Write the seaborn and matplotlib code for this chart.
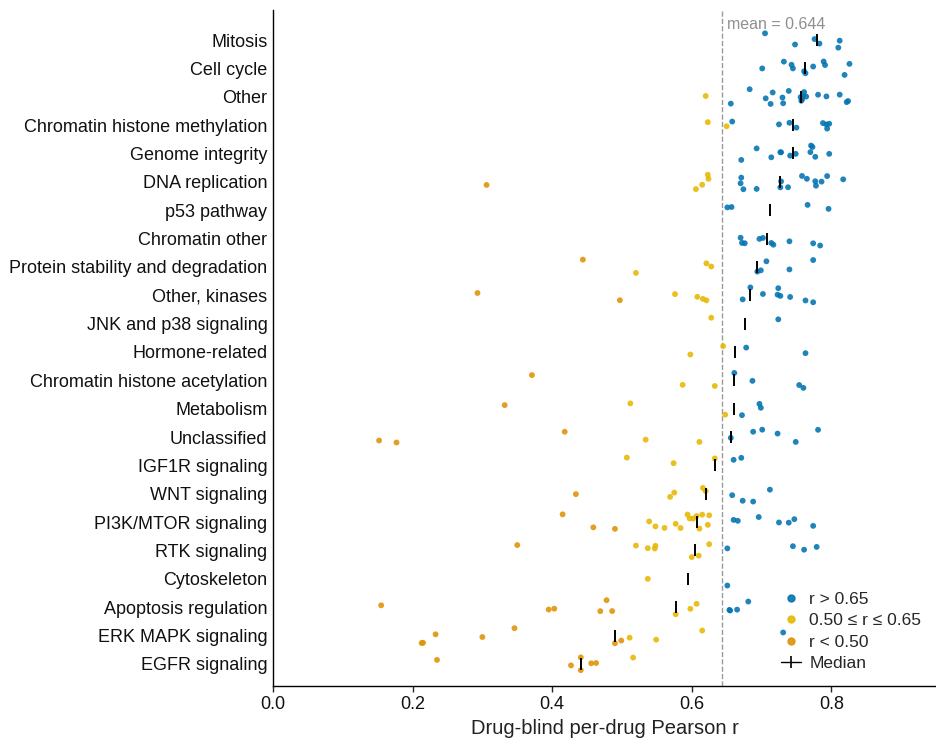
import numpy as np
import pandas as pd
import matplotlib
matplotlib.use("Agg")
import matplotlib.pyplot as plt
from matplotlib.lines import Line2D
import seaborn as sns

# Pathway order, top to bottom
categories = [
    "Mitosis", "Cell cycle", "Other", "Chromatin histone methylation",
    "Genome integrity", "DNA replication", "p53 pathway", "Chromatin other",
    "Protein stability and degradation", "Other, kinases", "JNK and p38 signaling",
    "Hormone-related", "Chromatin histone acetylation", "Metabolism",
    "Unclassified", "IGF1R signaling", "WNT signaling", "PI3K/MTOR signaling",
    "RTK signaling", "Cytoskeleton", "Apoptosis regulation", "ERK MAPK signaling",
    "EGFR signaling",
]

# Per-drug Pearson r, grouped by target pathway
mitosis = [0.705, 0.748, 0.776, 0.783, 0.810, 0.812]
cell_cycle = [0.701, 0.732, 0.743, 0.745, 0.761, 0.763, 0.774, 0.789, 0.791, 0.819, 0.826]
other = [0.620, 0.656, 0.683, 0.706, 0.713, 0.716, 0.730, 0.731, 0.739, 0.756, 0.757,
         0.758, 0.759, 0.761, 0.764, 0.781, 0.793, 0.812, 0.822, 0.824]
chromatin_methylation = [0.623, 0.650, 0.658, 0.725, 0.740, 0.750, 0.788, 0.793, 0.794, 0.797]
genome_integrity = [0.671, 0.693, 0.714, 0.727, 0.728, 0.741, 0.749, 0.770, 0.771, 0.773,
                    0.777, 0.797]
dna_replication = [0.306, 0.606, 0.615, 0.623, 0.624, 0.670, 0.671, 0.674, 0.693, 0.727,
                   0.728, 0.738, 0.758, 0.765, 0.777, 0.778, 0.786, 0.794, 0.817]
p53_pathway = [0.651, 0.657, 0.766, 0.796]
chromatin_other = [0.670, 0.672, 0.676, 0.697, 0.702, 0.714, 0.717, 0.740, 0.774, 0.784]
protein_stability = [0.444, 0.520, 0.621, 0.628, 0.694, 0.699, 0.707, 0.740, 0.774]
other_kinases = [0.293, 0.497, 0.576, 0.608, 0.616, 0.621, 0.673, 0.684, 0.702, 0.723,
                 0.724, 0.727, 0.741, 0.763, 0.774]
jnk_p38 = [0.628, 0.724]
hormone_related = [0.598, 0.645, 0.678, 0.763]
chromatin_acetylation = [0.371, 0.587, 0.633, 0.661, 0.687, 0.754, 0.760]
metabolism = [0.332, 0.512, 0.648, 0.672, 0.697, 0.699]
unclassified = [0.152, 0.177, 0.418, 0.534, 0.611, 0.656, 0.688, 0.701, 0.723, 0.749, 0.781]
igf1r = [0.507, 0.574, 0.633, 0.660, 0.671]
wnt = [0.434, 0.569, 0.575, 0.616, 0.620, 0.658, 0.673, 0.688, 0.712]
pi3k_mtor = [0.415, 0.459, 0.490, 0.539, 0.548, 0.561, 0.577, 0.584, 0.594, 0.597, 0.602,
             0.607, 0.611, 0.615, 0.623, 0.625, 0.660, 0.666, 0.696, 0.725, 0.739, 0.747,
             0.774]
rtk = [0.350, 0.520, 0.537, 0.547, 0.548, 0.600, 0.610, 0.625, 0.651, 0.745, 0.761, 0.779]
cytoskeleton = [0.537, 0.651]
apoptosis = [0.155, 0.395, 0.403, 0.469, 0.478, 0.486, 0.577, 0.598, 0.607, 0.654, 0.655,
             0.665, 0.681]
erk_mapk = [0.213, 0.215, 0.233, 0.300, 0.346, 0.490, 0.499, 0.511, 0.549, 0.615, 0.731]
egfr = [0.235, 0.427, 0.441, 0.441, 0.456, 0.463, 0.516]

MEAN_R = 0.644

groups = [mitosis, cell_cycle, other, chromatin_methylation, genome_integrity,
          dna_replication, p53_pathway, chromatin_other, protein_stability,
          other_kinases, jnk_p38, hormone_related, chromatin_acetylation, metabolism,
          unclassified, igf1r, wnt, pi3k_mtor, rtk, cytoskeleton, apoptosis,
          erk_mapk, egfr]

band_labels = ["r > 0.65", "0.50 \u2264 r \u2264 0.65", "r < 0.50"]
band_colors = ["#0173b2", "#e6b800", "#de9205"]


def band(r):
    if r > 0.65:
        return band_labels[0]
    if r >= 0.50:
        return band_labels[1]
    return band_labels[2]


rows = [(cat, r, band(r)) for cat, vals in zip(categories, groups) for r in vals]
df = pd.DataFrame(rows, columns=["pathway", "r", "band"])

sns.set_theme(style="ticks")
plt.rcParams["font.family"] = ["Liberation Sans", "DejaVu Sans"]

fig = plt.figure(figsize=(9.36, 7.38), dpi=100)
ax = fig.add_axes([273 / 936, 1 - 686 / 738, 1 - 273 / 936, 676 / 738])

ax.axvline(MEAN_R, color="#9a9a9a", ls="--", lw=1.0, zorder=0.5)

np.random.seed(7)
sns.stripplot(data=df, x="r", y="pathway", hue="band", order=categories,
              hue_order=band_labels, palette=band_colors, jitter=0.28,
              size=4.2, alpha=0.88, linewidth=0, legend=False, ax=ax, zorder=2)

sns.pointplot(data=df, x="r", y="pathway", order=categories, estimator="median",
              errorbar=None, color="black", markers="|", linestyles="none",
              markersize=9, markeredgewidth=1.4, ax=ax)

ax.text(MEAN_R + 0.006, -0.55, f"mean = {MEAN_R:.3f}", color="#8f8f8f",
        fontsize=11.5, ha="left", va="center")

ax.set_xlim(0, 0.95)
ax.set_ylim(22.78, -1.06)
ax.set_xticks([0.0, 0.2, 0.4, 0.6, 0.8])
ax.set_xticklabels(["0.0", "0.2", "0.4", "0.6", "0.8"])
ax.set_xlabel("Drug-blind per-drug Pearson r", fontsize=14.5, color="#222222")
ax.set_ylabel("")
ax.tick_params(axis="y", length=0, labelsize=13, pad=4, labelcolor="#111111")
ax.tick_params(axis="x", length=4, width=1, labelsize=13, labelcolor="#111111")
for side in ["left", "bottom"]:
    ax.spines[side].set_color("black")
    ax.spines[side].set_linewidth(1.0)
sns.despine(ax=ax)

handles = [Line2D([], [], marker="o", ls="none", color=c, markersize=5, alpha=0.9)
           for c in band_colors]
handles.append(Line2D([], [], color="black", marker="|", lw=1.0,
                      markersize=8, markeredgewidth=1.2))
ax.legend(handles, band_labels + ["Median"], loc="lower right", frameon=False,
          fontsize=12.5, handlelength=1.1, handletextpad=0.5, labelspacing=0.36,
          borderaxespad=0.45)

fig.savefig("out.png", dpi=100)
